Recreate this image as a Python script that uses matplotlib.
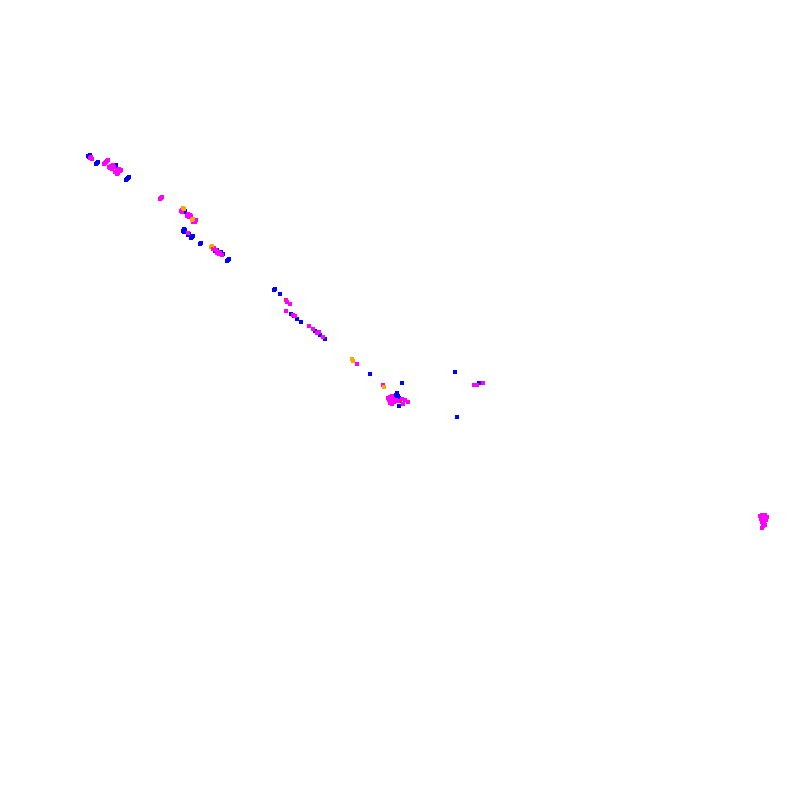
import matplotlib
matplotlib.use('Agg')
import matplotlib.pyplot as plt

# point positions (x to the right, y downward)
blue_x = [88, 90, 89, 96, 97, 98, 115, 116, 126, 127, 128, 129, 184, 185,
          183, 184, 185, 184, 185, 188, 189, 191, 192, 193, 200, 201,
          215, 217, 221, 223, 227, 228, 229,
          274, 275, 280, 291, 294, 297, 301, 315, 320, 325,
          370, 402, 455, 479, 457,
          396, 397, 398, 399, 391, 394, 400, 399]
blue_y = [156, 155, 157, 164, 163, 162, 167, 165, 180, 179, 178, 177, 212, 211,
          231, 229, 231, 232, 230, 235, 234, 238, 237, 236, 244, 243,
          251, 250, 252, 254, 261, 260, 259,
          290, 289, 294, 314, 316, 319, 322, 331, 335, 339,
          374, 383, 372, 383, 417,
          395, 393, 396, 398, 399, 397, 401, 406]

magenta_x = [90, 91, 92, 105, 106, 107, 104, 108, 110, 111, 113, 112, 114, 109,
             116, 117, 119, 118, 120, 117, 121, 115, 160, 161, 162,
             181, 182, 182, 187, 188, 190, 189, 191, 194, 195, 196, 193,
             188, 213, 214, 216, 218, 220, 222, 219, 217,
             286, 287, 290, 286, 293, 295, 309, 313, 317, 319, 323,
             357, 383, 474, 477, 483,
             388, 390, 392, 389, 391, 393, 394, 390, 392, 396, 398, 402, 405, 408, 403,
             760, 762, 765, 767, 761, 764, 766, 762, 764, 763, 762, 765]
magenta_y = [158, 157, 159, 163, 162, 161, 164, 160, 168, 166, 165, 169, 167, 167,
             172, 170, 169, 173, 171, 174, 170, 172, 199, 198, 197,
             211, 210, 212, 216, 214, 215, 217, 216, 221, 222, 220, 222,
             233, 249, 248, 250, 252, 253, 255, 254, 253,
             300, 302, 304, 311, 315, 316, 326, 329, 333, 332, 337,
             364, 385, 385, 385, 383,
             398, 397, 396, 400, 401, 399, 402, 403, 404, 400, 401, 399, 400, 402, 404,
             516, 515, 515, 517, 519, 518, 520, 522, 523, 526, 528, 525]

orange_x = [183, 184, 192, 193, 211, 212, 352, 353, 384]
orange_y = [208, 209, 220, 219, 247, 246, 359, 361, 387]

red_x = [212, 285, 401]
red_y = [248, 299, 401]

fig = plt.figure(figsize=(8, 8), dpi=100)
ax = fig.add_axes([0, 0, 1, 1])
ax.scatter(blue_x, blue_y, s=7, marker='s', color='#0000ff', linewidths=0)
ax.scatter(magenta_x, magenta_y, s=7, marker='s', color='#ff00ff', linewidths=0)
ax.scatter(orange_x, orange_y, s=5, marker='s', color='#ffa500', linewidths=0)
ax.scatter(red_x, red_y, s=4, marker='s', color='#ff2020', linewidths=0)
ax.set_xlim(0, 800)
ax.set_ylim(800, 0)
ax.axis('off')
fig.savefig('out.png', dpi=100, facecolor='white')
